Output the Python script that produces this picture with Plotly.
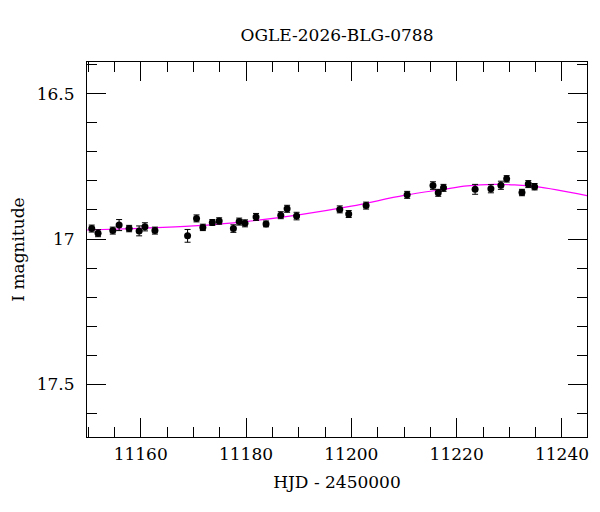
import plotly.graph_objects as go

# Observations (HJD - 2450000, I magnitude, error)
hjd = [11150.7, 11151.9, 11154.7, 11155.9, 11157.8, 11159.7, 11160.8, 11162.7,
       11168.9, 11170.6, 11171.8, 11173.6, 11174.9, 11177.6, 11178.7, 11179.8,
       11181.9, 11183.8, 11186.6, 11187.8, 11189.6, 11197.8, 11199.5, 11202.8,
       11210.6, 11215.5, 11216.5, 11217.5, 11223.5, 11226.5, 11228.4, 11229.5,
       11232.4, 11233.6, 11234.8]
mag = [16.964, 16.980, 16.971, 16.952, 16.964, 16.972, 16.958, 16.971,
       16.989, 16.929, 16.960, 16.943, 16.938, 16.964, 16.940, 16.946,
       16.924, 16.948, 16.918, 16.896, 16.921, 16.898, 16.914, 16.885,
       16.848, 16.816, 16.841, 16.824, 16.829, 16.827, 16.815, 16.793,
       16.840, 16.811, 16.820]
err = [0.012, 0.012, 0.012, 0.019, 0.011, 0.017, 0.014, 0.012,
       0.022, 0.012, 0.011, 0.010, 0.011, 0.013, 0.012, 0.012,
       0.012, 0.010, 0.012, 0.012, 0.013, 0.012, 0.012, 0.012,
       0.012, 0.013, 0.012, 0.012, 0.017, 0.014, 0.014, 0.011,
       0.011, 0.012, 0.011]

# Model curve
model_t = [11149.7, 11160, 11170, 11180, 11190, 11200, 11210, 11217.5,
           11222, 11227, 11231, 11235, 11239, 11244.8]
model_m = [16.969, 16.963, 16.955, 16.940, 16.917, 16.887, 16.850, 16.829,
           16.817, 16.812, 16.814, 16.820, 16.831, 16.851]

title_text = "OGLE-2026-BLG-0788"
x_title = "HJD - 2450000"
y_title = "I magnitude"

FONT = "DejaVu Serif"
FS = 17

fig = go.Figure()
fig.add_trace(go.Scatter(
    x=model_t, y=model_m, mode="lines", line=dict(color="#ff00ff", width=1.2, shape="spline"),
    hoverinfo="skip", showlegend=False))
fig.add_trace(go.Scatter(
    x=hjd, y=mag, mode="markers",
    marker=dict(color="black", size=7),
    error_y=dict(type="data", array=err, visible=True, color="black", thickness=1, width=3),
    showlegend=False))

axis_common = dict(
    showgrid=False, zeroline=False, showline=True, linecolor="black", linewidth=1,
    mirror="ticks", ticks="inside", tickcolor="black", tickwidth=1, ticklen=19,
    tickfont=dict(family=FONT, size=FS, color="black"), automargin=False,
)

fig.update_layout(
    width=600, height=512,
    margin=dict(l=79, r=21, t=54, b=83),
    paper_bgcolor="white", plot_bgcolor="white",
    title=dict(text=title_text, x=0.5, xref="paper", y=1 - 27 / 512, yref="container",
               xanchor="center", yanchor="middle",
               font=dict(family=FONT, size=FS, color="black")),
    xaxis=dict(**axis_common, range=[11149.8, 11244.75], dtick=20, tick0=11160,
               tickformat="d", ticklabelstandoff=2,
               minor=dict(dtick=5, ticklen=10, ticks="inside", tickcolor="black", tickwidth=1),
               title=dict(text=x_title, font=dict(family=FONT, size=FS, color="black"), standoff=12)),
    yaxis=dict(**axis_common, range=[17.681, 16.391], dtick=0.5, tick0=16.5,
               ticklabelstandoff=8,
               minor=dict(dtick=0.1, ticklen=10, ticks="inside", tickcolor="black", tickwidth=1),
               title=dict(text=y_title, font=dict(family=FONT, size=FS, color="black"), standoff=10)),
)

fig.write_html("out.html")
